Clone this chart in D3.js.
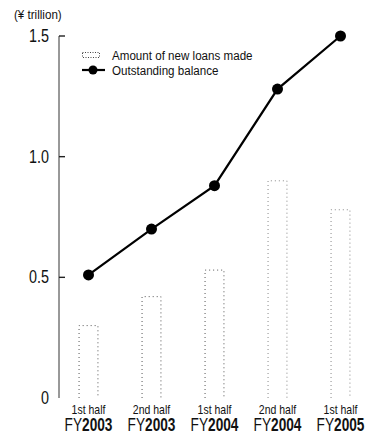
<!DOCTYPE html>
<html>
<head>
<meta charset="utf-8">
<script src="https://cdn.jsdelivr.net/npm/d3@7"></script>
<style>
  html, body { margin: 0; padding: 0; background: #fff; }
  svg { display: block; }
  text { font-family: "Liberation Sans", Arial, sans-serif; fill: #111; }
</style>
</head>
<body>
<div id="chart"></div>
<script>
// Half-year periods and their fiscal years
const halves = ["1st half", "2nd half", "1st half", "2nd half", "1st half"];
const fiscalYears = ["2003", "2003", "2004", "2004", "2005"];
// New loans made during each half (¥ trillion)
const newLoans = [0.30, 0.42, 0.53, 0.90, 0.78];
// Outstanding balance at end of each half (¥ trillion)
const outstanding = [0.51, 0.70, 0.88, 1.28, 1.50];
const yTicks = [0, 0.5, 1.0, 1.5];
const yTickLabels = ["0", "0.5", "1.0", "1.5"];

const W = 365, H = 434;
const svg = d3.select("#chart").append("svg").attr("width", W).attr("height", H);

// Condensed text: horizontally squeezed around its anchor point
function ctext(parent, x, y, size, sx, anchor) {
  return parent.append("text")
    .attr("transform", `translate(${x},${y}) scale(${sx},1)`)
    .attr("font-size", size)
    .attr("text-anchor", anchor || "start");
}

const idx = d3.range(halves.length);
const x = d3.scaleBand().domain(idx).range([57, 372]).paddingInner(0.7).paddingOuter(0.35);
const y = d3.scaleLinear().domain([0, 1.5]).range([398, 36]);

// Unit label
ctext(svg, 14, 19, 13.5, 0.86).text("(¥ trillion)");

// Y axis
const axisX = 59;
svg.append("line").attr("x1", axisX).attr("x2", axisX).attr("y1", y(1.5)).attr("y2", y(0))
  .attr("stroke", "#333").attr("stroke-width", 1);
const ty = svg.append("g");
yTicks.forEach((t, i) => {
  if (t > 0) {
    ty.append("line").attr("x1", axisX).attr("x2", axisX + 6).attr("y1", y(t)).attr("y2", y(t))
      .attr("stroke", "#222").attr("stroke-width", 1.4);
  }
  ctext(ty, 49, y(t) + 6, 17.5, 0.82, "end").attr("fill", "#222").text(yTickLabels[i]);
});

// Bars: dotted outlines, open at the baseline
const bars = svg.append("g");
idx.forEach(i => {
  const x0 = x(i), x1 = x(i) + x.bandwidth(), yt = y(newLoans[i]), yb = y(0);
  bars.append("path")
    .attr("d", `M${x0},${yb}V${yt}H${x1}V${yb}`)
    .attr("fill", "none").attr("stroke", "#555").attr("stroke-width", 1)
    .attr("stroke-dasharray", "1 3").attr("opacity", i >= 3 ? 0.7 : 1);
});

// Outstanding balance line
const cx = i => x(i) + x.bandwidth() / 2;
svg.append("path").datum(outstanding)
  .attr("d", d3.line().x((d, i) => cx(i)).y(d => y(d)))
  .attr("fill", "none").attr("stroke", "#000").attr("stroke-width", 2.2);
svg.append("g").selectAll("circle").data(outstanding).join("circle")
  .attr("cx", (d, i) => cx(i)).attr("cy", d => y(d)).attr("r", 5.5).attr("fill", "#000");

// Category labels
const cat = svg.append("g");
idx.forEach(i => {
  ctext(cat, cx(i), 414, 12.5, 0.84, "middle").text(halves[i]);
  const t = ctext(cat, cx(i), 431, 18, 0.76, "middle");
  t.append("tspan").text("FY");
  t.append("tspan").attr("font-weight", "bold").text(fiscalYears[i]);
});

// Legend
const lg = svg.append("g");
lg.append("rect").attr("x", 82.5).attr("y", 52.5).attr("width", 17).attr("height", 5)
  .attr("fill", "none").attr("stroke", "#444").attr("stroke-dasharray", "1 1.5");
ctext(lg, 112, 60, 13.5, 0.86).text("Amount of new loans made");
lg.append("line").attr("x1", 82).attr("x2", 105).attr("y1", 70).attr("y2", 70)
  .attr("stroke", "#000").attr("stroke-width", 2.2);
lg.append("circle").attr("cx", 93).attr("cy", 70).attr("r", 4.5).attr("fill", "#000");
ctext(lg, 112, 75, 13.5, 0.86).text("Outstanding balance");
</script>
</body>
</html>
